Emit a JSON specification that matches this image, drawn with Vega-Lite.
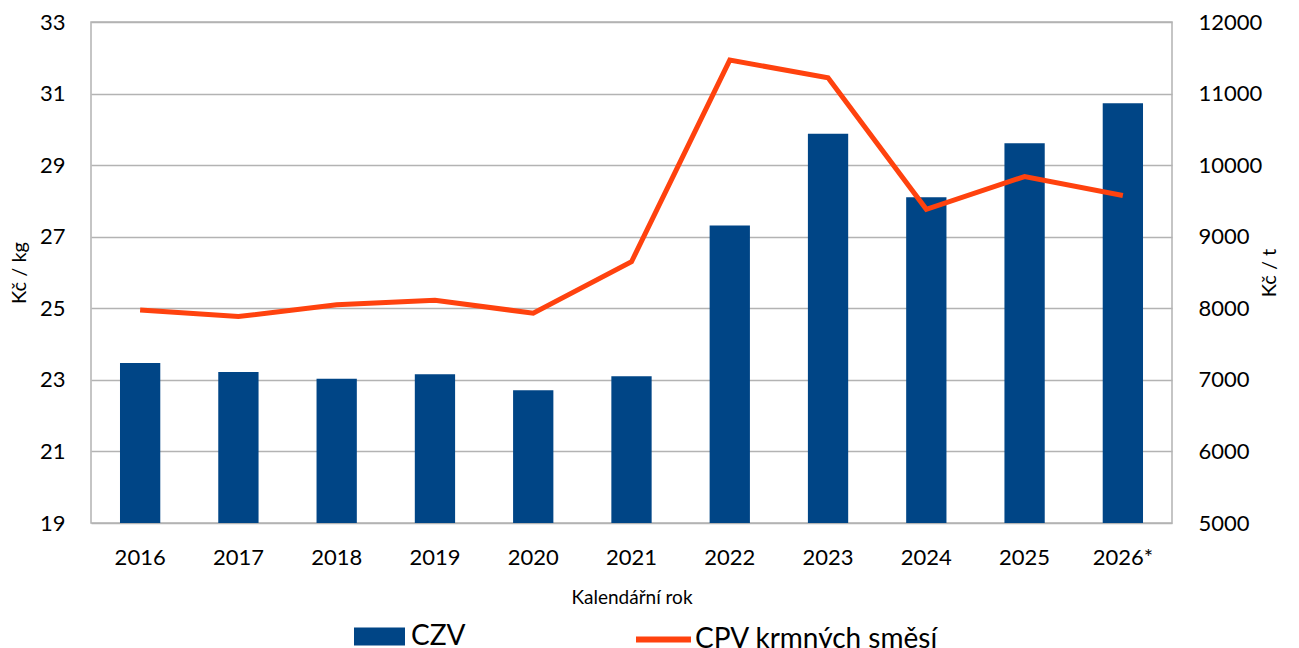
{
  "$schema": "https://vega.github.io/schema/vega-lite/v6.json",
  "autosize": {"type": "none"},
  "padding": {"left": 91, "top": 22, "right": 127, "bottom": 125},
  "width": 1081,
  "height": 501,
  "background": "white",
  "config": {
    "font": "Lato",
    "view": {"stroke": "#b3b3b3", "strokeWidth": 1.5},
    "axis": {"labelColor": "black", "titleColor": "black", "titleFontWeight": "normal", "ticks": false, "domain": false, "labelFont": "Lato", "titleFont": "Lato"},
    "legend": {"labelColor": "black", "labelFont": "Lato", "labelLimit": 0}
  },
  "data": {
    "values": [
      {"year": "2016", "czv": 23.47, "cpv": 7976},
      {"year": "2017", "czv": 23.22, "cpv": 7884},
      {"year": "2018", "czv": 23.03, "cpv": 8050},
      {"year": "2019", "czv": 23.16, "cpv": 8111},
      {"year": "2020", "czv": 22.71, "cpv": 7932},
      {"year": "2021", "czv": 23.10, "cpv": 8650},
      {"year": "2022", "czv": 27.31, "cpv": 11468},
      {"year": "2023", "czv": 29.88, "cpv": 11222},
      {"year": "2024", "czv": 28.10, "cpv": 9383},
      {"year": "2025", "czv": 29.61, "cpv": 9841},
      {"year": "2026*", "czv": 30.73, "cpv": 9576}
    ]
  },
  "encoding": {
    "x": {
      "field": "year", "type": "nominal", "sort": null,
      "scale": {"paddingInner": 0.59, "paddingOuter": 0.295},
      "axis": {"labelAngle": 0, "labelFontSize": 22, "labelPadding": 24, "title": "Kalendářní rok", "titleFontSize": 19, "titlePadding": 20, "grid": false}
    }
  },
  "layer": [
    {
      "mark": {"type": "bar", "color": "#004586", "clip": true},
      "encoding": {
        "y": {
          "field": "czv", "type": "quantitative",
          "scale": {"domain": [19, 33], "nice": false, "zero": false},
          "axis": {"title": "Kč / kg", "values": [19, 21, 23, 25, 27, 29, 31, 33], "labelFontSize": 22, "labelPadding": 26, "titleFontSize": 20, "titlePadding": 10, "grid": true, "gridColor": "#b3b3b3", "gridWidth": 1.5}
        },
        "fill": {
          "datum": "CZV", "type": "nominal",
          "scale": {"domain": ["CZV"], "range": ["#004586"]},
          "legend": {"title": null, "orient": "none", "legendX": 263, "legendY": 589, "padding": 0, "labelFontSize": 28, "labelOffset": 6, "symbolType": "M-1,-0.35H1V0.35H-1Z", "symbolSize": 2601, "symbolStrokeWidth": 0}
        }
      }
    },
    {
      "mark": {"type": "line", "color": "#ff420e", "strokeWidth": 5},
      "encoding": {
        "y": {
          "field": "cpv", "type": "quantitative",
          "scale": {"domain": [5000, 12000], "nice": false, "zero": false},
          "axis": {"orient": "right", "title": "Kč / t", "titleAngle": -90, "values": [5000, 6000, 7000, 8000, 9000, 10000, 11000, 12000], "format": "d", "labelFontSize": 22, "labelPadding": 26, "titleFontSize": 20, "titlePadding": 18, "grid": false}
        },
        "stroke": {
          "datum": "CPV krmných směsí", "type": "nominal",
          "scale": {"domain": ["CPV krmných směsí"], "range": ["#ff420e"]},
          "legend": {"title": null, "orient": "none", "legendX": 542, "legendY": 587, "padding": 0, "labelFontSize": 28, "labelOffset": 1, "symbolType": "stroke", "symbolSize": 3025, "symbolStrokeWidth": 6}
        }
      }
    }
  ],
  "resolve": {"scale": {"y": "independent"}}
}
